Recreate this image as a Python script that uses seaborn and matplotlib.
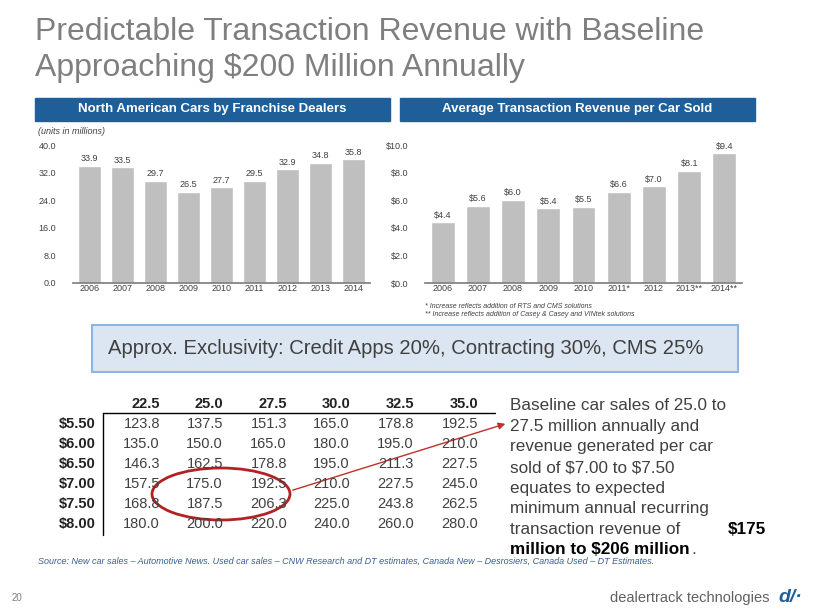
import matplotlib
matplotlib.use("Agg")
import matplotlib.pyplot as plt
import seaborn as sns
import pandas as pd
import numpy as np
from matplotlib.patches import Rectangle, Ellipse

years1 = ["2006","2007","2008","2009","2010","2011","2012","2013","2014"]
cars = [33.9,33.5,29.7,26.5,27.7,29.5,32.9,34.8,35.8]
years2 = ["2006","2007","2008","2009","2010","2011*","2012","2013**","2014**"]
rev = [4.4,5.6,6.0,5.4,5.5,6.6,7.0,8.1,9.4]
col_heads = ["22.5","25.0","27.5","30.0","32.5","35.0"]
row_heads = ["$5.50","$6.00","$6.50","$7.00","$7.50","$8.00"]
table = [[123.8,137.5,151.3,165.0,178.8,192.5],
         [135.0,150.0,165.0,180.0,195.0,210.0],
         [146.3,162.5,178.8,195.0,211.3,227.5],
         [157.5,175.0,192.5,210.0,227.5,245.0],
         [168.8,187.5,206.3,225.0,243.8,262.5],
         [180.0,200.0,220.0,240.0,260.0,280.0]]

sns.set_theme(style="white")
plt.rcParams['font.family'] = ['Liberation Sans', 'DejaVu Sans']
W, H = 820, 615
fig = plt.figure(figsize=(8.2, 6.15), dpi=100)
def fx(x): return x / W
def fy(y): return 1 - y / H
def T(x, y, s, **kw):
    return fig.text(fx(x), fy(y), s, parse_math=False, **kw)

GRAY = "#7F7F7F"; BLUE = "#1F5F99"
T(35, 32, "Predictable Transaction Revenue with Baseline", fontsize=23, color=GRAY, va="center")
T(35, 68, "Approaching $200 Million Annually", fontsize=23, color=GRAY, va="center")

for x0, x1, t in [(35, 390, "North American Cars by Franchise Dealers"), (400, 755, "Average Transaction Revenue per Car Sold")]:
    fig.patches.append(Rectangle((fx(x0), fy(121)), fx(x1 - x0), (121 - 98) / H, transform=fig.transFigure, color=BLUE))
    T((x0 + x1) / 2, 109.5, t, color="white", fontsize=9.5, fontweight="bold", ha="center", va="center")
T(38, 131, "(units in millions)", fontsize=6.5, style="italic", color="#404040", va="center")

def barax(l, r, cats, vals, ymax, step, fmt):
    ax = fig.add_axes([fx(l), fy(283), fx(r - l), (283 - 145) / H])
    df = pd.DataFrame({"c": cats, "v": vals})
    sns.barplot(data=df, x="c", y="v", color="#BFBFBF", saturation=1, width=0.68, ax=ax)
    ax.set_ylim(0, ymax)
    ticks = np.arange(0, ymax + 0.01, step)
    ax.set_yticks(ticks)
    ax.set_yticklabels([fmt.format(t).replace("$", r"\$") for t in ticks], fontsize=6.5, color="#404040")
    ax.tick_params(axis="x", labelsize=6.5, colors="#404040", pad=1, length=0)
    ax.tick_params(axis="y", pad=6)
    for i, v in enumerate(vals):
        ax.text(i, v + ymax * 0.02, fmt.format(v), ha="center", va="bottom", fontsize=6.5, color="#404040", parse_math=False)
    ax.set_xlabel(""); ax.set_ylabel("")
    for s in ["top", "right", "left"]:
        ax.spines[s].set_visible(False)
    ax.spines["bottom"].set_color("#808080")
    return ax

barax(73, 370, years1, cars, 40, 8, "{:.1f}")
barax(425, 742, years2, rev, 10, 2, "${:.1f}")
T(425, 306, "* Increase reflects addition of RTS and CMS solutions", fontsize=5, style="italic", color="#404040", va="center")
T(425, 315, "** Increase reflects addition of Casey & Casey and VINtek solutions", fontsize=5, style="italic", color="#404040", va="center")

fig.patches.append(Rectangle((fx(92), fy(372)), fx(738 - 92), (372 - 325) / H, transform=fig.transFigure,
                             facecolor="#DCE6F2", edgecolor="#8EB4E3", lw=1.5))
T(108, 349, "Approx. Exclusivity: Credit Apps 20%, Contracting 30%, CMS 25%", fontsize=14.6, color="#404040", va="center")

colx = [160, 223, 287, 350, 414, 478]
for j, h in enumerate(col_heads):
    T(colx[j], 404, h, fontsize=10.5, fontweight="bold", ha="right", va="center", color="#222222")
rowy = [424, 444, 464, 484, 504, 524]
for i, rh in enumerate(row_heads):
    T(96, rowy[i], rh, fontsize=10.5, fontweight="bold", ha="right", va="center", color="#222222")
    for j, v in enumerate(table[i]):
        T(colx[j], rowy[i], f"{v:.1f}", fontsize=10.5, ha="right", va="center", color="#404040")
fig.lines.append(plt.Line2D([fx(103), fx(495)], [fy(413), fy(413)], transform=fig.transFigure, color="black", lw=1))
fig.lines.append(plt.Line2D([fx(103), fx(103)], [fy(413), fy(535)], transform=fig.transFigure, color="black", lw=1))
fig.patches.append(Ellipse((fx(221), fy(494)), fx(138), 52 / H, transform=fig.transFigure, fill=False, edgecolor="#B22222", lw=2))
fig.patches.append(matplotlib.patches.FancyArrowPatch((fx(290), fy(491)), (fx(508), fy(423)), transform=fig.transFigure,
                   arrowstyle="-|>", mutation_scale=10, color="#C0302A", lw=1))

lines = ["Baseline car sales of 25.0 to", "27.5 million annually and", "revenue generated per car",
         "sold of $7.00 to $7.50", "equates to expected", "minimum annual recurring"]
fs = 12.3
for k, t in enumerate(lines):
    T(510, 406 + 20.5 * k, t, fontsize=fs, color="#404040", va="center")
T(510, 406 + 20.5 * 6, "transaction revenue of", fontsize=fs, color="#404040", va="center")
T(728, 406 + 20.5 * 6, "$175", fontsize=fs, color="black", fontweight="bold", va="center")
T(510, 406 + 20.5 * 7, "million to $206 million", fontsize=fs, color="black", fontweight="bold", va="center")
T(691, 406 + 20.5 * 7, ".", fontsize=fs, color="#404040", va="center")

T(38, 561, "Source: New car sales \u2013 Automotive News. Used car sales \u2013 CNW Research and DT estimates, Canada New \u2013 Desrosiers, Canada Used \u2013 DT Estimates.",
  fontsize=6.5, style="italic", color="#365F91", va="center")
T(12, 598, "20", fontsize=7, color=GRAY, va="center")
T(770, 598, "dealertrack technologies", fontsize=10.5, color="#606060", ha="right", va="center")
T(778, 598, "d/\u00b7", fontsize=14, color="#1F5F99", fontweight="bold", ha="left", va="center", style="italic")

fig.savefig("out.png", dpi=100)
